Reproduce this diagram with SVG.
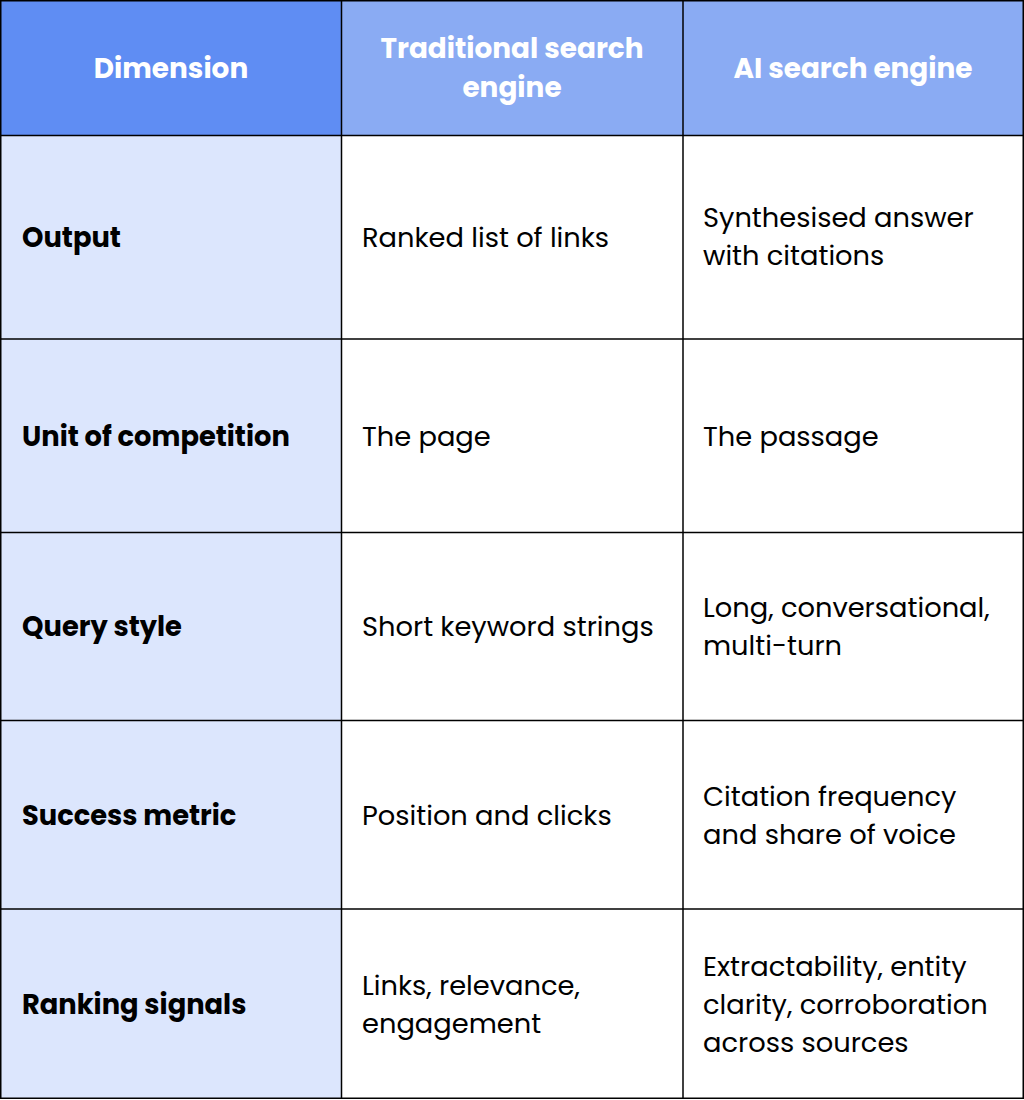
<svg xmlns="http://www.w3.org/2000/svg" width="1024" height="1100" viewBox="0 0 1024 1100">
<style>
.hd{font-family:Poppins,"DejaVu Sans","Open Sans",sans-serif;font-weight:700;font-size:27.9px;fill:#ffffff;text-anchor:middle}
.lb{font-family:Poppins,"DejaVu Sans","Open Sans",sans-serif;font-weight:700;font-size:27.3px;fill:#000000}
.tx{font-family:Poppins,"DejaVu Sans","Open Sans",sans-serif;font-weight:400;font-size:27.3px;fill:#000000}
.ln{stroke:#000000;stroke-width:1.5;fill:none}
</style>
<rect x="0" y="0" width="1024" height="1100" fill="#ffffff"/>
<g id="header">
<rect x="0" y="0" width="341" height="135" fill="#5f8df3"/>
<rect x="341" y="0" width="683" height="135" fill="#8aabf3"/>
<text class="hd" x="171" y="78">Dimension</text>
<text class="hd" x="512" y="58">Traditional search</text>
<text class="hd" x="512" y="97">engine</text>
<text class="hd" x="853" y="78">AI search engine</text>
</g>
<g id="label-col">
<rect x="0" y="135" width="341" height="964" fill="#dce6fd"/>
</g>
<g id="row-output">
<text class="lb" x="22" y="247">Output</text>
<text class="tx" x="362" y="247">Ranked list of links</text>
<text class="tx" x="703" y="227">Synthesised answer</text>
<text class="tx" x="703" y="265">with citations</text>
</g>
<g id="row-unit">
<text class="lb" x="22" y="446">Unit of competition</text>
<text class="tx" x="362" y="446">The page</text>
<text class="tx" x="703" y="446">The passage</text>
</g>
<g id="row-query">
<text class="lb" x="22" y="636">Query style</text>
<text class="tx" x="362" y="636">Short keyword strings</text>
<text class="tx" x="703" y="617">Long, conversational,</text>
<text class="tx" x="703" y="655">multi-turn</text>
</g>
<g id="row-success">
<text class="lb" x="22" y="825">Success metric</text>
<text class="tx" x="362" y="825">Position and clicks</text>
<text class="tx" x="703" y="806">Citation frequency</text>
<text class="tx" x="703" y="844">and share of voice</text>
</g>
<g id="row-ranking">
<text class="lb" x="22" y="1014">Ranking signals</text>
<text class="tx" x="362" y="995">Links, relevance,</text>
<text class="tx" x="362" y="1033">engagement</text>
<text class="tx" x="703" y="976">Extractability, entity</text>
<text class="tx" x="703" y="1014">clarity, corroboration</text>
<text class="tx" x="703" y="1052">across sources</text>
</g>
<g id="grid">
<rect class="ln" x="0.75" y="0.75" width="1022.5" height="1097.5"/>
<line class="ln" x1="341.5" y1="0" x2="341.5" y2="1099"/>
<line class="ln" x1="683" y1="0" x2="683" y2="1099"/>
<line class="ln" x1="0" y1="135.5" x2="1024" y2="135.5"/>
<line class="ln" x1="0" y1="339" x2="1024" y2="339"/>
<line class="ln" x1="0" y1="532.5" x2="1024" y2="532.5"/>
<line class="ln" x1="0" y1="720.5" x2="1024" y2="720.5"/>
<line class="ln" x1="0" y1="909" x2="1024" y2="909"/>
</g>
</svg>
